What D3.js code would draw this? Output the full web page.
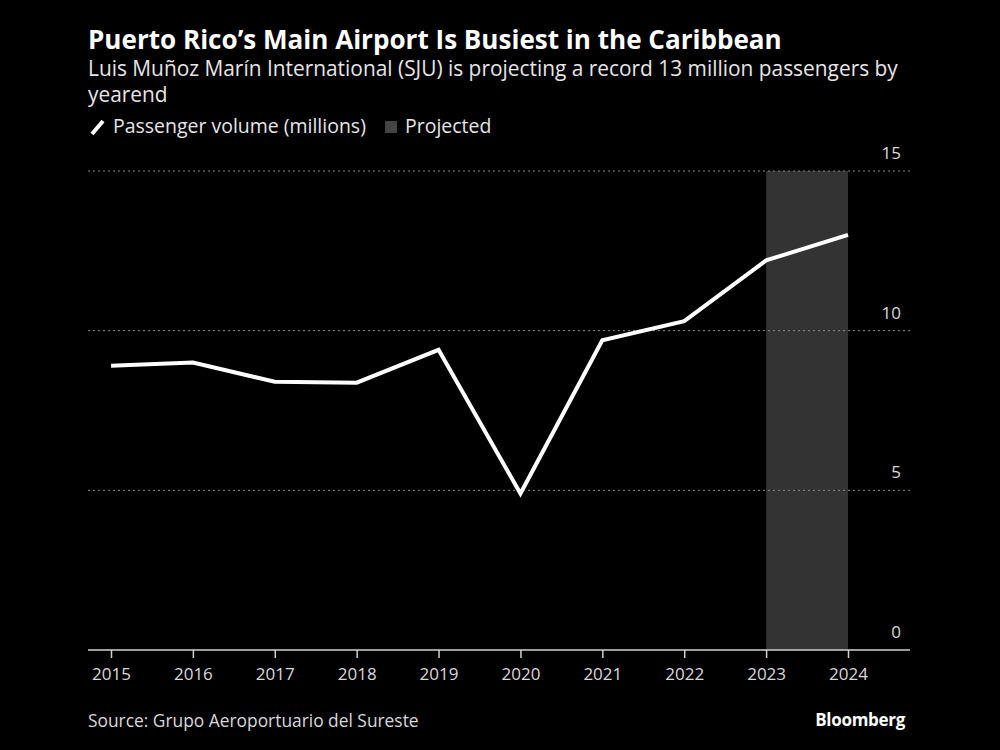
<!DOCTYPE html>
<html><head><meta charset="utf-8">
<script src="https://cdn.jsdelivr.net/npm/d3@7"></script>
<style>body{margin:0;background:#000;} svg{display:block;}</style>
</head><body>
<svg id="c" width="1000" height="750"></svg>
<script>
const years = [2015,2016,2017,2018,2019,2020,2021,2022,2023,2024];
const passengers = [8.9,9.0,8.4,8.37,9.4,4.9,9.7,10.3,12.2,13.0];
const projectedRange = [2023,2024];
const yTicks = [0,5,10,15];
const titleText = "Puerto Rico’s Main Airport Is Busiest in the Caribbean";
const subtitleLines = ["Luis Muñoz Marín International (SJU) is projecting a record 13 million passengers by","yearend"];
const legendLabels = ["Passenger volume (millions)","Projected"];
const sourceText = "Source: Grupo Aeroportuario del Sureste";

(function(){
const svg = d3.select("#c");
svg.append("rect").attr("width",1000).attr("height",750).attr("fill","#000");
const FONT = "'Open Sans', 'DejaVu Sans', sans-serif";

function fit(sel, w){
  const n = sel.node(); const fs = parseFloat(sel.attr("font-size"));
  const len = n.getComputedTextLength();
  sel.attr("font-size", (fs*w/len).toFixed(2));
}

const L = 88, R = 910, plotTop = 171, plotBottom = 650;
const x = d3.scalePoint().domain(years).range([111,848]);
const y = d3.scaleLinear().domain([0,15]).range([plotBottom, plotTop]);

// projected band
svg.append("rect").attr("x", x(projectedRange[0])).attr("y", y(15))
  .attr("width", x(projectedRange[1]) - x(projectedRange[0])).attr("height", y(0)-y(15))
  .attr("fill","#333333");

// gridlines
svg.append("g").selectAll("line").data(yTicks.filter(d=>d>0)).join("line")
  .attr("x1",L).attr("x2",R).attr("y1",d=>y(d)).attr("y2",d=>y(d))
  .attr("stroke","#8a8a8a").attr("stroke-width",1).attr("stroke-dasharray","2,3");

// y labels
svg.append("g").selectAll("text").data(yTicks).join("text")
  .attr("x",901).attr("y",d=>y(d)-12).attr("text-anchor","end")
  .attr("fill","#d9d9d9").attr("font-family",FONT).attr("font-size",17).text(d=>d);

// x axis
const xa = svg.append("g").attr("transform",`translate(0,${plotBottom})`)
  .call(d3.axisBottom(x).tickSize(8).tickPadding(10).tickFormat(d3.format("d")));
xa.select(".domain").attr("d",`M${L},0H${R}`).attr("stroke","#d0d0d0").attr("stroke-width",1.5);
xa.selectAll(".tick line").attr("stroke","#d0d0d0").attr("stroke-width",1.5);
xa.selectAll(".tick text").attr("fill","#d9d9d9").attr("font-family",FONT).attr("font-size",17);

// line
const line = d3.line().x((d,i)=>x(years[i])).y(d=>y(d));
svg.append("path").datum(passengers).attr("d",line).attr("fill","none")
  .attr("stroke","#fff").attr("stroke-width",4).attr("stroke-linejoin","miter");

// title
const t = svg.append("text").attr("x",L).attr("y",49).attr("fill","#fff")
  .attr("font-family",FONT).attr("font-weight","bold").attr("font-size",22).text(titleText);
fit(t, 694);
const s1 = svg.append("text").attr("x",L).attr("y",76).attr("fill","#e6e6e6")
  .attr("font-family",FONT).attr("font-size",18).text(subtitleLines[0]);
fit(s1, 810);
svg.append("text").attr("x",L).attr("y",102).attr("fill","#e6e6e6")
  .attr("font-family",FONT).attr("font-size",s1.attr("font-size")).text(subtitleLines[1]);

// legend
svg.append("line").attr("x1",92).attr("y1",134).attr("x2",103).attr("y2",121)
  .attr("stroke","#fff").attr("stroke-width",4);
const lg1 = svg.append("text").attr("x",113).attr("y",133).attr("fill","#e6e6e6")
  .attr("font-family",FONT).attr("font-size",18).text(legendLabels[0]);
fit(lg1, 253);
svg.append("rect").attr("x",385).attr("y",121).attr("width",12).attr("height",12).attr("fill","#444");
svg.append("text").attr("x",405).attr("y",133).attr("fill","#e6e6e6")
  .attr("font-family",FONT).attr("font-size",lg1.attr("font-size")).text(legendLabels[1]);

// footer
const src = svg.append("text").attr("x",L).attr("y",727).attr("fill","#d9d9d9")
  .attr("font-family",FONT).attr("font-size",17).text(sourceText);
fit(src, 331);
svg.append("text").attr("x",905).attr("y",726).attr("text-anchor","end").attr("fill","#fff")
  .attr("font-family",FONT).attr("font-weight","bold").attr("font-size",17).attr("letter-spacing","-0.3").text("Bloomberg");
})();
</script>
</body></html>
